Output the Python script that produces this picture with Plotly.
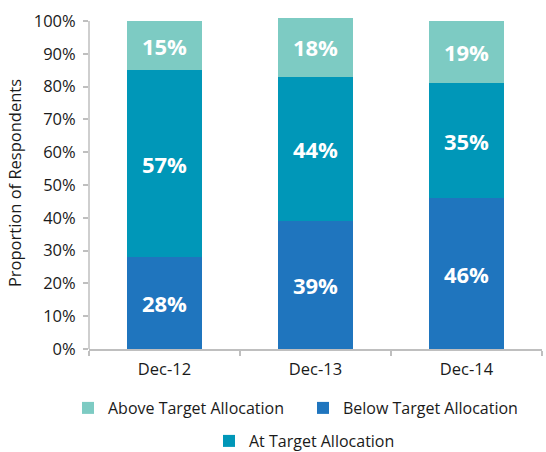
import plotly.graph_objects as go

categories = ["Dec-12", "Dec-13", "Dec-14"]
below = [0.28, 0.39, 0.46]
at = [0.57, 0.44, 0.35]
above = [0.15, 0.18, 0.19]
y_ticks = [i / 10 for i in range(11)]
y_tick_labels = [f"{i*10}%" for i in range(11)]

FONT = "Open Sans"
TXT = "#1a1a1a"
C_ABOVE = "#7DCBC3"
C_AT = "#0097B8"
C_BELOW = "#1F75BE"
AXIS = "#BFBFBF"

fig = go.Figure()
common = dict(
    texttemplate="%{y:.0%}",
    textposition="inside",
    insidetextanchor="middle",
    textfont=dict(family=FONT, size=22, color="white", weight="bold"),
    width=0.5,
    marker_line_width=0,
)
fig.add_bar(x=categories, y=below, name="Below Target Allocation",
            marker_color=C_BELOW, legend="legend2", **common)
fig.add_bar(x=categories, y=at, name="At Target Allocation",
            marker_color=C_AT, legend="legend3", **common)
fig.add_bar(x=categories, y=above, name="Above Target Allocation",
            marker_color=C_ABOVE, legend="legend", **common)

fig.add_shape(type="line", xref="paper", yref="y", x0=0, x1=0, y0=0, y1=1,
              line=dict(color=AXIS, width=1.5))

leg_font = dict(family=FONT, size=16, color=TXT)


def leg(x, y):
    return dict(orientation="h", xref="container", yref="container",
                x=x / 546, xanchor="left", y=1 - y / 452, yanchor="top",
                font=leg_font, bgcolor="rgba(0,0,0,0)")


fig.update_layout(
    width=546, height=452,
    barmode="stack",
    showlegend=True,
    plot_bgcolor="white", paper_bgcolor="white",
    margin=dict(l=89, r=4, t=17, b=103),
    font=dict(family=FONT, size=16, color=TXT),
    legend=leg(68, 391),
    legend2=leg(303, 391),
    legend3=leg(209, 424),
)
fig.update_xaxes(
    automargin=False,
    showline=True, linecolor=AXIS, linewidth=1.5,
    ticks="outside", tickson="boundaries", ticklen=5, tickcolor=AXIS, tickwidth=1.5,
    ticklabelstandoff=4,
    tickfont=dict(family=FONT, size=16.5, color=TXT),
)
fig.update_yaxes(
    automargin=False,
    range=[0, 332 / 328], showgrid=False, zeroline=False, showline=False,
    tickvals=y_ticks, ticktext=y_tick_labels,
    ticks="outside", ticklen=5, tickcolor=AXIS, tickwidth=1.5,
    ticklabelstandoff=4,
    tickfont=dict(family=FONT, size=16.5, color=TXT),
    title=dict(text="Proportion of Respondents",
               font=dict(family=FONT, size=16.5, color=TXT), standoff=7),
)

fig.write_html("out.html", config={"displayModeBar": False},
               post_script="document.body.style.margin='0';")
